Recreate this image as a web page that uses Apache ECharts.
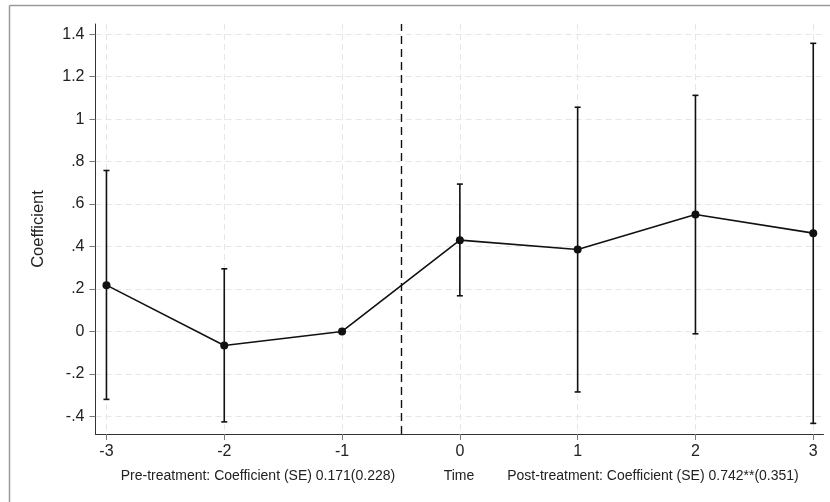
<!DOCTYPE html>
<html>
<head>
<meta charset="utf-8">
<script src="https://cdn.jsdelivr.net/npm/echarts@6/dist/echarts.min.js"></script>
<style>
  html, body { margin: 0; padding: 0; background: #fff; }
  #chart { width: 830px; height: 502px; }
</style>
</head>
<body>
<div id="chart"></div>
<script>
// event-study estimates
var periods = [-3, -2, -1, 0, 1, 2, 3];
var coefs = [0.218, -0.066, 0, 0.43, 0.386, 0.551, 0.463];
var ciLow = [-0.32, -0.426, 0, 0.168, -0.285, -0.011, -0.433];
var ciHigh = [0.758, 0.295, 0, 0.694, 1.056, 1.112, 1.357];
var yTicks = [-0.4, -0.2, 0, 0.2, 0.4, 0.6, 0.8, 1, 1.2, 1.4];
var xTicks = [-3, -2, -1, 0, 1, 2, 3];
var treatLine = -0.5;
var preText = 'Pre-treatment: Coefficient (SE) 0.171(0.228)';
var postText = 'Post-treatment: Coefficient (SE) 0.742**(0.351)';

var chart = echarts.init(document.getElementById('chart'));

var pointData = periods.map(function (p, i) { return [p, coefs[i]]; });
var barData = periods
	.map(function (p, i) { return [p, ciLow[i], ciHigh[i]]; })
	.filter(function (d) { return d[1] !== d[2]; });

// stata style: .4 instead of 0.4
function stataFmt(v) {
	var s = String(Math.round(v * 10) / 10);
	return s.replace(/^0\./, '.').replace(/^-0\./, '-.');
}

var font = 'Liberation Sans, Arial, sans-serif';
var gridLine = { show: true, lineStyle: { color: '#e6e6e6', type: [6, 4], width: 1 } };

var option = {
	animation: false,
	grid: { left: 95.5, right: 6.5, top: 24, bottom: 68 },
	xAxis: {
		type: 'value',
		min: -3.093,
		max: 3.087,
		axisLine: { onZero: false, lineStyle: { color: '#333', width: 1 } },
		axisTick: { show: true, length: 6, lineStyle: { color: '#777' }, customValues: xTicks },
		axisLabel: { customValues: xTicks, color: '#222', fontSize: 16, fontFamily: font, margin: 10 },
		splitLine: gridLine
	},
	yAxis: {
		type: 'value',
		min: -0.483,
		max: 1.448,
		name: 'Coefficient',
		nameLocation: 'middle',
		nameGap: 49,
		nameTextStyle: { color: '#222', fontSize: 16.5, fontFamily: font },
		axisLine: { show: true, onZero: false, lineStyle: { color: '#333', width: 1 } },
		axisTick: { show: true, length: 6, lineStyle: { color: '#777' }, customValues: yTicks },
		axisLabel: { customValues: yTicks, color: '#222', fontSize: 16, fontFamily: font, margin: 11,
			formatter: stataFmt },
		splitLine: gridLine
	},
	graphic: [
		{ type: 'line', shape: { x1: 9.5, y1: 5.5, x2: 830, y2: 5.5 }, style: { stroke: '#9a9a9a', lineWidth: 1.5 } },
		{ type: 'line', shape: { x1: 9.5, y1: 5.5, x2: 9.5, y2: 502 }, style: { stroke: '#9a9a9a', lineWidth: 1.5 } },
		{ type: 'text', style: { text: preText, x: 258, y: 476, align: 'center', verticalAlign: 'middle', fontSize: 14, fontFamily: font, fill: '#222' } },
		{ type: 'text', style: { text: 'Time', x: 459, y: 476, align: 'center', verticalAlign: 'middle', fontSize: 14, fontFamily: font, fill: '#222' } },
		{ type: 'text', style: { text: postText, x: 653, y: 476, align: 'center', verticalAlign: 'middle', fontSize: 14, fontFamily: font, fill: '#222' } }
	],
	series: [
		{
			type: 'custom',
			data: barData,
			z: 3,
			renderItem: function (params, api) {
				var x = api.value(0);
				var lo = api.coord([x, api.value(1)]);
				var hi = api.coord([x, api.value(2)]);
				var cap = 3;
				var st = { stroke: '#111', lineWidth: 1.6 };
				return {
					type: 'group',
					children: [
						{ type: 'line', shape: { x1: lo[0], y1: lo[1], x2: hi[0], y2: hi[1] }, style: st },
						{ type: 'line', shape: { x1: lo[0] - cap, y1: lo[1], x2: lo[0] + cap, y2: lo[1] }, style: st },
						{ type: 'line', shape: { x1: hi[0] - cap, y1: hi[1], x2: hi[0] + cap, y2: hi[1] }, style: st }
					]
				};
			}
		},
		{
			type: 'line',
			data: pointData,
			z: 4,
			symbol: 'circle',
			symbolSize: 8,
			itemStyle: { color: '#111' },
			lineStyle: { color: '#111', width: 1.6 },
			markLine: {
				symbol: 'none',
				silent: true,
				label: { show: false },
				lineStyle: { color: '#111', type: [8, 5], width: 1.4 },
				data: [{ xAxis: treatLine }]
			}
		}
	]
};

chart.setOption(option);
</script>
</body>
</html>
